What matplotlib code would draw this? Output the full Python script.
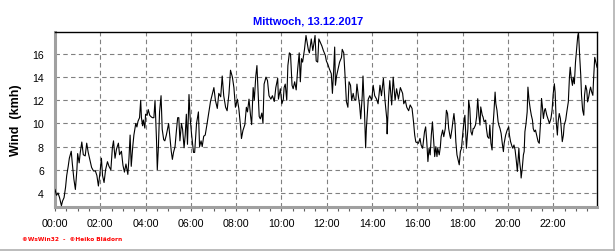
import matplotlib

matplotlib.use("Agg")
import matplotlib.pyplot as plt
from matplotlib.lines import Line2D
from matplotlib.ticker import FixedLocator, MultipleLocator

plt.rcParams["font.family"] = ["Liberation Sans", "DejaVu Sans"]

# Wind readings (minutes after midnight, km/h).
minutes_night = [
    0, 4, 8, 12, 17, 20, 24, 28, 31, 35, 38, 43, 46, 50, 54, 58, 60, 64, 67, 71,
    75, 80, 84, 88, 93, 97, 102, 107, 111, 115, 120, 123, 126, 130, 134, 139, 143, 148, 152, 155,
    159, 163, 168, 171, 176, 180, 184, 188, 193, 196, 199, 202, 206, 209, 214, 217, 220, 224, 227, 229,
    232, 234, 238, 240, 244, 247, 251, 254, 258, 262, 265, 269, 271, 274, 277, 281, 284, 288, 291, 295,
    298, 301, 304, 308, 311, 314, 318, 322, 325, 328, 331, 335, 338, 342, 345, 348, 351, 355, 358, 362,
    367, 370, 375, 380, 383, 387,
]
wind_night = [
    4.3, 3.8, 4.0, 3.6, 2.9, 3.3, 3.6, 4.5, 5.5, 6.3, 7.0, 7.6, 6.5, 5.2, 4.3, 6.0, 7.4, 6.6, 7.5, 8.4,
    7.3, 7.2, 8.3, 7.5, 6.8, 6.2, 5.9, 5.9, 5.5, 4.6, 6.0, 7.0, 5.5, 4.9, 6.0, 6.7, 6.3, 6.0, 7.9, 8.5,
    7.0, 7.8, 8.3, 7.3, 7.6, 6.4, 5.8, 6.5, 5.6, 7.0, 9.0, 6.3, 8.0, 9.0, 10.0, 9.7, 10.2, 10.5, 12.0, 10.5,
    9.8, 10.3, 9.6, 10.8, 10.7, 11.2, 10.7, 10.6, 10.5, 10.5, 12.0, 8.5, 6.0, 8.0, 11.0, 12.4, 9.5, 8.6, 8.5, 9.0,
    9.5, 10.0, 9.0, 7.6, 6.9, 7.5, 8.0, 9.5, 10.5, 10.5, 8.5, 10.0, 9.5, 7.9, 9.0, 10.8, 8.2, 12.5, 10.5, 9.0,
    7.5, 7.5, 10.0, 11.0, 8.0, 8.5,
]

minutes_day = [
    390, 394, 398, 403, 412, 421, 425, 430, 434, 439, 443, 447, 452, 456, 461, 465, 470, 474, 478, 483,
    487, 492, 494, 498, 503, 507, 510, 514, 518, 521, 525, 528, 532, 535, 538, 541, 544, 548, 551, 554,
    559, 563, 567, 572, 576, 581, 585, 590, 592, 597, 601, 605, 607, 610, 614, 617, 621, 624, 628, 631,
    635, 639, 643, 647, 650, 653, 656, 661, 665, 668, 671, 674, 679, 683, 686, 689, 692, 696, 699, 703,
    707, 711, 716, 719, 723, 727, 732, 735, 738, 741, 743, 746, 750, 754, 759, 761, 765, 768, 772, 776,
    779, 783, 786, 790, 793, 797, 800, 804, 807, 810, 814, 816, 820, 823, 825, 830, 834, 839, 843, 847,
    852, 856, 861, 865, 870, 874, 879, 880, 884, 887, 892, 896, 901, 905, 910,
    915, 921, 924, 928, 932, 937, 941, 946, 950, 953, 956,
]
wind_day = [
    8.0, 8.9, 9.0, 10.0, 11.9, 13.1, 12.0, 11.3, 12.6, 12.3, 14.1, 12.4, 11.4, 11.1, 12.6, 14.6, 14.0, 13.1, 11.4, 12.1,
    11.3, 9.6, 8.7, 9.4, 9.9, 11.4, 11.0, 12.1, 10.7, 9.9, 13.1, 12.0, 14.1, 15.0, 12.9, 10.6, 10.4, 10.9, 10.0, 13.4,
    14.0, 13.7, 12.4, 12.1, 12.4, 11.9, 13.1, 13.9, 12.1, 13.0, 11.7, 12.1, 13.1, 13.4, 12.0, 15.0, 16.1, 16.0, 13.3, 13.0,
    13.6, 12.9, 14.7, 16.1, 13.6, 15.6, 15.3, 16.4, 17.6, 17.0, 16.4, 16.1, 17.3, 16.3, 16.9, 17.6, 15.4, 15.3, 17.3, 17.0,
    16.7, 16.3, 15.9, 15.4, 15.1, 14.7, 14.3, 12.6, 14.4, 16.6, 13.3, 14.1, 14.7, 15.3, 15.7, 16.4, 16.1, 14.4, 11.9, 11.4,
    13.6, 13.3, 12.0, 12.6, 12.1, 12.0, 13.4, 12.3, 11.6, 10.4, 12.4, 14.1, 11.0, 7.9, 9.6, 12.1, 12.4, 12.0, 13.3, 12.4,
    12.1, 11.7, 13.3, 12.4, 13.9, 12.1, 10.4, 9.1, 12.3, 13.7, 11.6, 14.0, 12.0, 13.0, 12.1,
    13.1, 12.6, 11.7, 12.0, 11.4, 11.1, 11.6, 11.3, 10.1, 9.0, 8.4,
]

minutes_evening = [
    963, 967, 970, 974, 976, 979, 982, 985, 988, 991, 994, 997, 1000, 1003, 1006, 1009, 1012, 1014, 1018, 1021,
    1023, 1027, 1030, 1034, 1037, 1040, 1043, 1046, 1048, 1052, 1054, 1057, 1060, 1062, 1065, 1068, 1071, 1074, 1077, 1080,
    1083, 1086, 1087, 1090, 1094, 1096, 1099, 1102, 1105, 1108, 1110, 1114, 1117, 1120, 1123, 1126, 1128, 1132, 1134, 1137,
    1141, 1143, 1146, 1150, 1152, 1155, 1158, 1160, 1163, 1166, 1168, 1171, 1174, 1176, 1179, 1182, 1185, 1188, 1190, 1194,
    1198,
    1202, 1204, 1207, 1211, 1213, 1216, 1219, 1222, 1225, 1227, 1229, 1231, 1234, 1235, 1238, 1241, 1243, 1245, 1248, 1251,
    1253, 1256, 1259, 1262, 1265, 1267, 1270, 1273, 1276, 1280, 1283, 1286, 1289, 1291, 1294, 1297, 1299, 1303, 1307, 1310,
    1314, 1317, 1320, 1323, 1325, 1328, 1331, 1333, 1336, 1339, 1341, 1344, 1347, 1349, 1353, 1356, 1360, 1363, 1365, 1368,
    1371, 1373, 1376, 1379, 1382, 1385, 1387, 1390, 1393, 1395, 1398, 1401, 1403, 1406, 1409, 1411, 1414, 1417, 1419, 1422,
    1425, 1427, 1430, 1433, 1436,
]
wind_evening = [
    8.29, 8.71, 8.14, 7.86, 8.43, 9.29, 9.71, 8.43, 6.71, 7.86, 7.29, 9.0, 10.14, 8.71, 7.14, 8.0, 7.14, 7.86, 7.29, 8.0,
    8.86, 9.43, 8.86, 9.57, 11.14, 10.86, 9.57, 9.0, 8.71, 9.57, 10.14, 10.86, 9.86, 8.43, 7.29, 6.86, 6.43, 7.57, 7.86, 9.0,
    10.0, 10.71, 10.0, 7.86, 9.57, 12.0, 11.29, 9.29, 9.0, 9.57, 9.57, 9.86, 10.57, 12.14, 10.71, 9.86, 11.43, 10.71, 10.57, 10.14,
    10.29, 9.57, 8.86, 8.71, 9.86, 8.29, 7.71, 9.57, 11.0, 12.71, 11.71, 11.14, 10.14, 9.86, 9.57, 9.14, 8.29, 7.57, 8.29, 9.0,
    9.43,
    9.71, 9.0, 8.43, 8.0, 7.86, 8.14, 7.71, 6.86, 5.86, 6.86, 7.86, 6.71, 5.86, 5.29, 6.14, 7.29, 7.57, 9.29, 10.0, 11.0,
    13.14, 12.0, 11.29, 10.71, 10.29, 9.57, 9.29, 9.43, 9.0, 8.43, 8.29, 9.86, 12.14, 11.57, 10.43, 11.14, 11.29, 10.71, 10.29, 10.0,
    10.43, 11.14, 12.57, 13.43, 12.71, 10.14, 9.0, 10.14, 10.86, 10.43, 9.71, 8.43, 9.0, 9.86, 10.29, 11.0, 11.86, 14.0, 14.86, 13.86,
    13.29, 14.0, 13.43, 15.29, 16.43, 17.57, 17.86, 15.86, 14.14, 12.43, 11.14, 10.71, 12.43, 13.29, 12.86, 11.86, 12.29, 12.86, 13.14, 12.71,
    12.43, 13.86, 15.71, 15.29, 14.86,
]

hour_ticks = list(range(0, 24, 2))
hour_labels = [f"{h:02d}:00" for h in hour_ticks]
y_ticks = [4, 6, 8, 10, 12, 14, 16]

minutes = minutes_night + minutes_day + minutes_evening
wind = wind_night + wind_day + wind_evening
hours = [m / 60 for m in minutes]

fig = plt.figure(figsize=(6.16, 2.53), dpi=100)
ax = fig.add_axes([55 / 616, 45.5 / 253, 542 / 616, 174.5 / 253])

ax.plot(hours, wind, color="black", linewidth=0.8, zorder=3)

ax.set_xlim(hours[0], hours[-1])
ax.set_ylim(2.83, 17.9)
ax.xaxis.set_major_locator(FixedLocator(hour_ticks))
ax.set_xticklabels(hour_labels)
ax.xaxis.set_minor_locator(MultipleLocator(0.5))
ax.set_yticks(y_ticks)

ax.grid(True, which="major", color="#808080", linestyle=(0, (4, 3)), linewidth=0.8)
ax.tick_params(axis="x", which="both", length=3, width=0.8, color="#606060",
               labelsize=7.7, pad=5)
ax.tick_params(axis="y", length=0, labelsize=7.7, pad=8)

for side in ("left", "bottom"):
    ax.spines[side].set_color("#a0a0a0")
    ax.spines[side].set_linewidth(2.2)
for side in ("top", "right"):
    ax.spines[side].set_color("black")
    ax.spines[side].set_linewidth(1.0)

ax.set_ylabel("Wind  (kmh)", fontsize=9, fontweight="bold", labelpad=7)

fig.text(0.5, 1 - 22 / 253, "Mittwoch, 13.12.2017", color="#0000ff",
         fontsize=8, fontweight="bold", ha="center", va="center")
fig.text(22 / 616, 1 - 240 / 253, "\u00a9WsWin32  -  \u00a9Heiko Bl\u00e4dorn", color="red",
         fontsize=4.2, fontweight="bold", ha="left", va="center",
         family=["DejaVu Sans"])

# outer frame of the picture (right and bottom edge)
fig.add_artist(Line2D([613.5 / 616, 613.5 / 616], [2.5 / 253, 1], color="#b0b0b0", linewidth=1.2))
fig.add_artist(Line2D([0, 613.5 / 616], [2.5 / 253, 2.5 / 253], color="#b0b0b0", linewidth=1.2))

fig.savefig("out.png", dpi=100)
